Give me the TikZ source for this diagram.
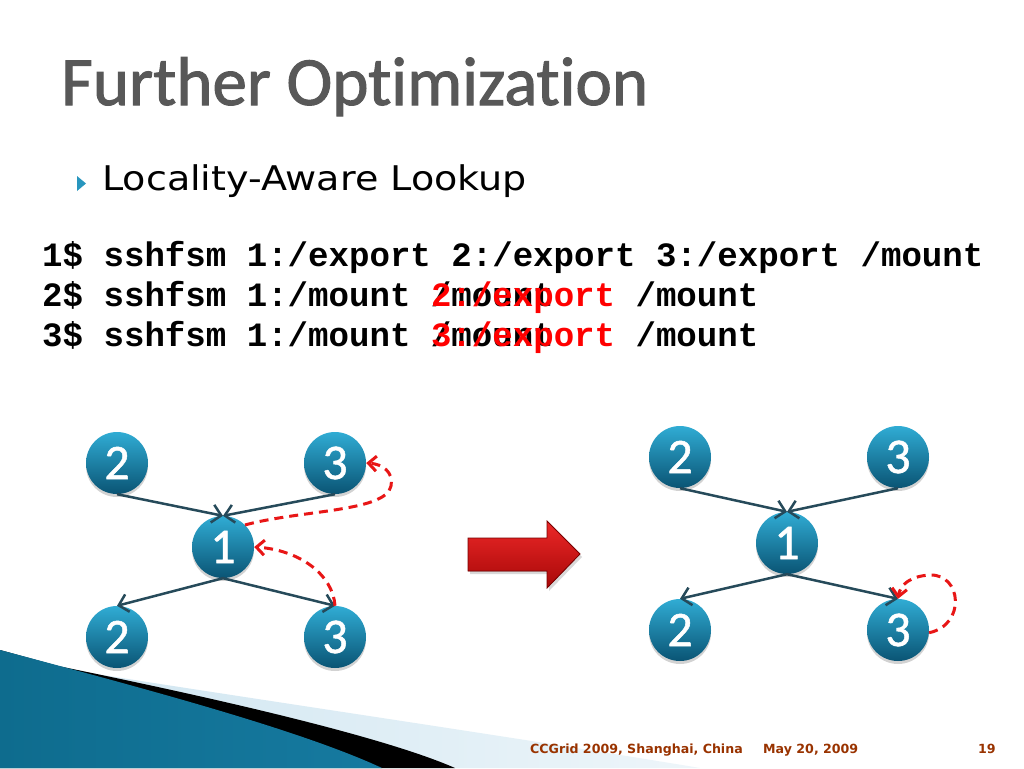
\documentclass[tikz,border=0pt]{standalone}
\usepackage{fontspec}
\setmainfont{Liberation Sans}
\newfontfamily\titlefont{Carlito}[Ligatures=NoCommon, FakeBold=1.5]
\newfontfamily\digitfont{Carlito}[FakeBold=1]
\newfontfamily\bulletfont{DejaVu Sans}[FakeStretch=1.12]
\newfontfamily\codefont{Liberation Mono}
\newfontfamily\footfont{DejaVu Sans}
\usetikzlibrary{arrows.meta,shadows}
\definecolor{titlegray}{RGB}{88,88,88}
\definecolor{nodetop}{RGB}{48,172,212}
\definecolor{nodebot}{RGB}{10,84,116}
\definecolor{edgecol}{RGB}{38,74,90}
\definecolor{dashred}{RGB}{232,22,22}
\definecolor{footbrown}{RGB}{153,51,0}
\definecolor{bullteal}{RGB}{40,150,190}
\definecolor{tealdark}{RGB}{14,108,142}
\definecolor{teallight}{RGB}{78,178,212}
\definecolor{tealright}{RGB}{22,122,160}
\definecolor{lightb}{RGB}{205,228,240}
\definecolor{arrtop}{RGB}{236,40,40}
\definecolor{arrbot}{RGB}{168,8,8}
\definecolor{arredge}{RGB}{120,0,0}
\tikzset{
  circ/.style={circle, minimum size=62pt, inner sep=0pt, top color=nodetop, bottom color=nodebot,
    text=white, font=\digitfont\fontsize{50}{50}\selectfont,
    drop shadow={opacity=0.35, shadow xshift=0pt, shadow yshift=-3pt}},
  conn/.style={draw=edgecol, line width=2.5pt, -{Straight Barb[length=9pt,width=18pt]}},
  redconn/.style={draw=dashred, line width=3pt, dash pattern=on 9pt off 6pt,
    -{Straight Barb[length=8pt,width=15pt]}},
  code/.style={anchor=base west, inner sep=0pt, font=\codefont\bfseries\fontsize{34.1}{40}\selectfont},
  foot/.style={anchor=base west, inner sep=0pt, text=footbrown, font=\footfont\bfseries\fontsize{12.6}{14}\selectfont},
}
\begin{document}
\begin{tikzpicture}[x=1pt,y=-1pt]
\useasboundingbox (0,0) rectangle (1024,768);
\fill[white] (0,0) rectangle (1024,768);
% bottom-left decoration
\shade[left color=lightb, right color=lightb!35] (0,650) -- (58,666) -- (90,673)
  .. controls (260,700) and (520,738) .. (700,768) -- (0,768) -- cycle;
\fill[black] (0,650) -- (58,666) .. controls (200,695) and (380,735) .. (455,768) -- (0,768) -- cycle;
\shade[left color=tealdark, middle color=teallight, right color=tealright]
  (0,650) .. controls (150,690) and (300,730) .. (382,768) -- (0,768) -- cycle;
% title and bullet
\node[anchor=base west, inner sep=0pt, text=titlegray, font=\titlefont\fontsize{69}{69}\selectfont] (title) at (61,105) {Further Optimization};
\fill[bullteal] (77,176) -- (86,183.5) -- (77,191) -- cycle;
\node[anchor=base west, inner sep=0pt, font=\bulletfont\fontsize{34}{40}\selectfont] (bul) at (102,190) {Locality-Aware Lookup};
% code lines
\node[code] (c1) at (42,266) {1\$ sshfsm 1:/export 2:/export 3:/export /mount};
\node[code] (c2) at (42,306) {2\$ sshfsm 1:/mount /mount\phantom{xxx} /mount};
\node[code, text=red] (c2r) at (42,306) {\phantom{2\$ sshfsm 1:/mount }2:/export};
\node[code] (c3) at (42,346) {3\$ sshfsm 1:/mount /mount\phantom{xxx} /mount};
\node[code, text=red] (c3r) at (42,346) {\phantom{3\$ sshfsm 1:/mount }3:/export};
% big arrow
\filldraw[top color=arrtop, bottom color=arrbot, draw=arredge, line width=0.8pt,
  drop shadow={opacity=0.3, shadow xshift=2pt, shadow yshift=-3pt}]
  (468,538) -- (547,538) -- (547,521) -- (580,554) -- (547,588) -- (547,571) -- (468,571) -- cycle;
% left graph
\node[circ] (l2t) at (117,463) {2};
\node[circ] (l3t) at (335,463) {3};
\node[circ] (l1)  at (223,547) {1};
\node[circ] (l2b) at (117,637) {2};
\node[circ] (l3b) at (335,637) {3};
\draw[conn] (l2t.south) -- (l1.north);
\draw[conn] (l3t.south) -- (l1.north);
\draw[conn] (l1.south) -- (l2b.north);
\draw[conn] (l1.south) -- (l3b.north);
\draw[redconn] (l1.45) .. controls (300,510) and (386,512) .. (391,486)
  .. controls (394,472) and (382,464) .. (l3t.east);
\draw[redconn] (l3b.north) .. controls (333,575) and (300,550) .. (l1.east);
% right graph
\node[circ] (r2t) at (680,457) {2};
\node[circ] (r3t) at (898,457) {3};
\node[circ] (r1)  at (787,543) {1};
\node[circ] (r2b) at (680,630) {2};
\node[circ] (r3b) at (898,630) {3};
\draw[conn] (r2t.south) -- (r1.north);
\draw[conn] (r3t.south) -- (r1.north);
\draw[conn] (r1.south) -- (r2b.north);
\draw[conn] (r1.south) -- (r3b.north);
\draw[redconn] (r3b.-5) .. controls (966,625) and (962,574) .. (930,575)
  .. controls (910,576) and (900,585) .. (r3b.north);
% footer
\node[foot] (f1) at (530,753) {CCGrid 2009, Shanghai, China};
\node[foot] (f2) at (763,753) {May 20, 2009};
\node[foot] (f3) at (978,753) {19};
\end{tikzpicture}
\end{document}
